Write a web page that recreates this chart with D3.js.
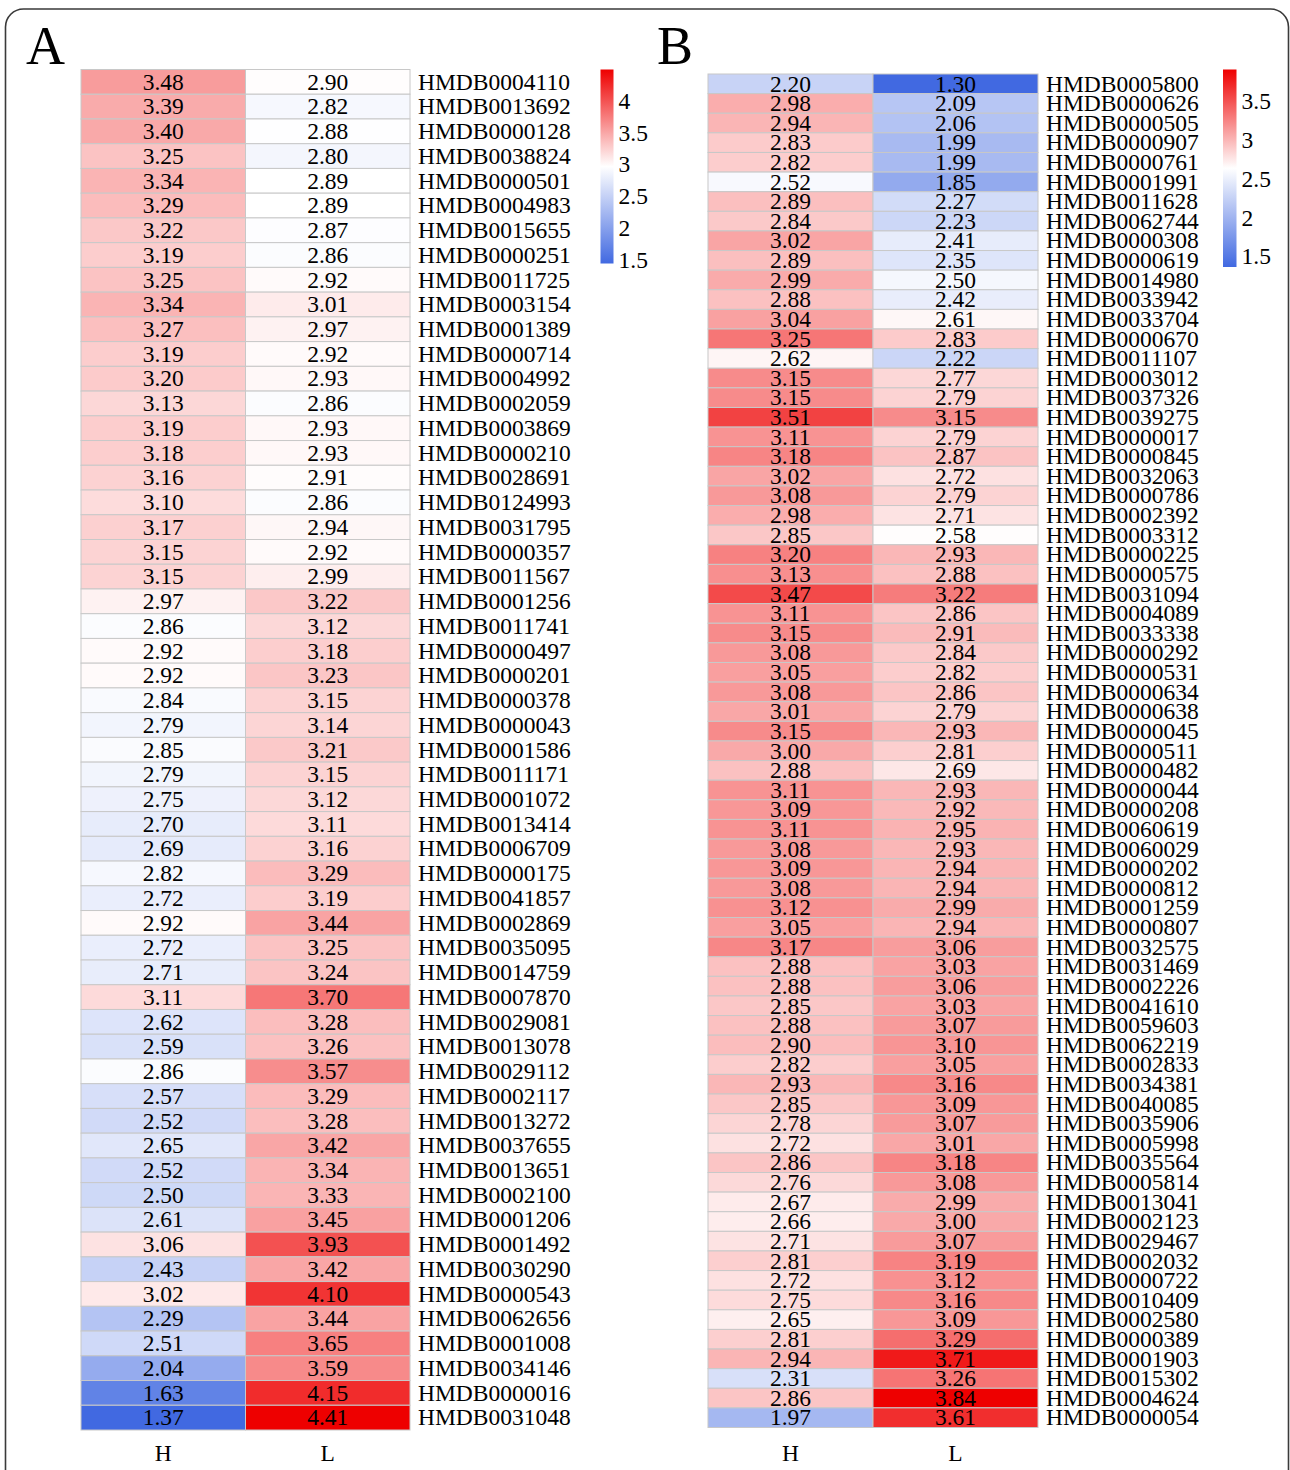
<!DOCTYPE html>
<html>
<head>
<meta charset="utf-8">
<script src="https://cdn.jsdelivr.net/npm/d3@7"></script>
<style>
  html, body { margin: 0; padding: 0; background: #fff; }
  svg { display: block; }
  text { font-family: "Liberation Serif", "Times New Roman", serif; fill: #000; }
</style>
</head>
<body>
<svg id="chart" width="1290" height="1470"></svg>
<script>
// ---------- DATA ----------
const columns = ["H", "L"];

const metabolitesA = ["HMDB0004110","HMDB0013692","HMDB0000128","HMDB0038824","HMDB0000501","HMDB0004983","HMDB0015655","HMDB0000251","HMDB0011725","HMDB0003154","HMDB0001389","HMDB0000714","HMDB0004992","HMDB0002059","HMDB0003869","HMDB0000210","HMDB0028691","HMDB0124993","HMDB0031795","HMDB0000357","HMDB0011567","HMDB0001256","HMDB0011741","HMDB0000497","HMDB0000201","HMDB0000378","HMDB0000043","HMDB0001586","HMDB0011171","HMDB0001072","HMDB0013414","HMDB0006709","HMDB0000175","HMDB0041857","HMDB0002869","HMDB0035095","HMDB0014759","HMDB0007870","HMDB0029081","HMDB0013078","HMDB0029112","HMDB0002117","HMDB0013272","HMDB0037655","HMDB0013651","HMDB0002100","HMDB0001206","HMDB0001492","HMDB0030290","HMDB0000543","HMDB0062656","HMDB0001008","HMDB0034146","HMDB0000016","HMDB0031048"];
const valuesA_H = [3.48,3.39,3.40,3.25,3.34,3.29,3.22,3.19,3.25,3.34,3.27,3.19,3.20,3.13,3.19,3.18,3.16,3.10,3.17,3.15,3.15,2.97,2.86,2.92,2.92,2.84,2.79,2.85,2.79,2.75,2.70,2.69,2.82,2.72,2.92,2.72,2.71,3.11,2.62,2.59,2.86,2.57,2.52,2.65,2.52,2.50,2.61,3.06,2.43,3.02,2.29,2.51,2.04,1.63,1.37];
const valuesA_L = [2.90,2.82,2.88,2.80,2.89,2.89,2.87,2.86,2.92,3.01,2.97,2.92,2.93,2.86,2.93,2.93,2.91,2.86,2.94,2.92,2.99,3.22,3.12,3.18,3.23,3.15,3.14,3.21,3.15,3.12,3.11,3.16,3.29,3.19,3.44,3.25,3.24,3.70,3.28,3.26,3.57,3.29,3.28,3.42,3.34,3.33,3.45,3.93,3.42,4.10,3.44,3.65,3.59,4.15,4.41];
const legendTicksA = [1.5, 2, 2.5, 3, 3.5, 4];

const metabolitesB = ["HMDB0005800","HMDB0000626","HMDB0000505","HMDB0000907","HMDB0000761","HMDB0001991","HMDB0011628","HMDB0062744","HMDB0000308","HMDB0000619","HMDB0014980","HMDB0033942","HMDB0033704","HMDB0000670","HMDB0011107","HMDB0003012","HMDB0037326","HMDB0039275","HMDB0000017","HMDB0000845","HMDB0032063","HMDB0000786","HMDB0002392","HMDB0003312","HMDB0000225","HMDB0000575","HMDB0031094","HMDB0004089","HMDB0033338","HMDB0000292","HMDB0000531","HMDB0000634","HMDB0000638","HMDB0000045","HMDB0000511","HMDB0000482","HMDB0000044","HMDB0000208","HMDB0060619","HMDB0060029","HMDB0000202","HMDB0000812","HMDB0001259","HMDB0000807","HMDB0032575","HMDB0031469","HMDB0002226","HMDB0041610","HMDB0059603","HMDB0062219","HMDB0002833","HMDB0034381","HMDB0040085","HMDB0035906","HMDB0005998","HMDB0035564","HMDB0005814","HMDB0013041","HMDB0002123","HMDB0029467","HMDB0002032","HMDB0000722","HMDB0010409","HMDB0002580","HMDB0000389","HMDB0001903","HMDB0015302","HMDB0004624","HMDB0000054"];
const valuesB_H = [2.20,2.98,2.94,2.83,2.82,2.52,2.89,2.84,3.02,2.89,2.99,2.88,3.04,3.25,2.62,3.15,3.15,3.51,3.11,3.18,3.02,3.08,2.98,2.85,3.20,3.13,3.47,3.11,3.15,3.08,3.05,3.08,3.01,3.15,3.00,2.88,3.11,3.09,3.11,3.08,3.09,3.08,3.12,3.05,3.17,2.88,2.88,2.85,2.88,2.90,2.82,2.93,2.85,2.78,2.72,2.86,2.76,2.67,2.66,2.71,2.81,2.72,2.75,2.65,2.81,2.94,2.31,2.86,1.97];
const valuesB_L = [1.30,2.09,2.06,1.99,1.99,1.85,2.27,2.23,2.41,2.35,2.50,2.42,2.61,2.83,2.22,2.77,2.79,3.15,2.79,2.87,2.72,2.79,2.71,2.58,2.93,2.88,3.22,2.86,2.91,2.84,2.82,2.86,2.79,2.93,2.81,2.69,2.93,2.92,2.95,2.93,2.94,2.94,2.99,2.94,3.06,3.03,3.06,3.03,3.07,3.10,3.05,3.16,3.09,3.07,3.01,3.18,3.08,2.99,3.00,3.07,3.19,3.12,3.16,3.09,3.29,3.71,3.26,3.84,3.61];
const legendTicksB = [1.5, 2, 2.5, 3, 3.5];

// ---------- DRAW ----------
const svg = d3.select("#chart");
const FS = 23.5;

// outer frame
svg.append("rect")
  .attr("x", 5.5).attr("y", 9).attr("width", 1283).attr("height", 1520)
  .attr("rx", 18).attr("ry", 18)
  .attr("fill", "none").attr("stroke", "#3a3a3a").attr("stroke-width", 1.6);

function panel(cfg) {
  const g = svg.append("g");
  const all = cfg.H.concat(cfg.L);
  const vmin = d3.min(all), vmax = d3.max(all);
  const color = d3.scaleLinear()
    .domain([vmin, (vmin + vmax) / 2, vmax])
    .range(["#4169E1", "#ffffff", "#EE0000"])
    .interpolate(d3.interpolateRgb);

  const x = d3.scaleBand().domain(columns).range([cfg.x0, cfg.x1]);
  const y = d3.scaleBand().domain(cfg.names).range([cfg.y0, cfg.y1]);

  const cells = [];
  cfg.names.forEach((n, i) => {
    cells.push({ row: n, col: "H", v: cfg.H[i] });
    cells.push({ row: n, col: "L", v: cfg.L[i] });
  });

  g.selectAll("rect.cell").data(cells).enter().append("rect")
    .attr("class", "cell")
    .attr("x", d => x(d.col)).attr("y", d => y(d.row))
    .attr("width", x.bandwidth()).attr("height", y.bandwidth())
    .attr("fill", d => color(d.v))
    .attr("stroke", "#c8c8c8").attr("stroke-width", 1);

  g.selectAll("text.val").data(cells).enter().append("text")
    .attr("class", "val")
    .attr("x", d => x(d.col) + x.bandwidth() / 2)
    .attr("y", d => y(d.row) + y.bandwidth() / 2 + FS * 0.33)
    .attr("text-anchor", "middle")
    .attr("font-size", FS)
    .text(d => d.v.toFixed(2));

  g.selectAll("text.rowlab").data(cfg.names).enter().append("text")
    .attr("class", "rowlab")
    .attr("x", cfg.x1 + 8)
    .attr("y", d => y(d) + y.bandwidth() / 2 + FS * 0.33)
    .attr("font-size", FS)
    .text(d => d);

  g.selectAll("text.collab").data(columns).enter().append("text")
    .attr("class", "collab")
    .attr("x", d => x(d) + x.bandwidth() / 2)
    .attr("y", 1461)
    .attr("text-anchor", "middle")
    .attr("font-size", FS)
    .text(d => d);

  // panel letter
  g.append("text").attr("x", cfg.letterX).attr("y", 64)
    .attr("font-size", 54).text(cfg.letter);

  // legend
  const gradId = "grad" + cfg.letter;
  const grad = svg.append("defs").append("linearGradient")
    .attr("id", gradId).attr("x1", 0).attr("y1", 1).attr("x2", 0).attr("y2", 0);
  d3.range(0, 1.0001, 0.05).forEach(t => {
    grad.append("stop").attr("offset", t).attr("stop-color", color(vmin + t * (vmax - vmin)));
  });
  g.append("rect")
    .attr("x", cfg.lx).attr("y", cfg.ly0)
    .attr("width", cfg.lw).attr("height", cfg.ly1 - cfg.ly0)
    .attr("fill", `url(#${gradId})`);
  const ly = d3.scaleLinear().domain([vmin, vmax]).range([cfg.ly1, cfg.ly0]);
  g.selectAll("text.leg").data(cfg.ticks).enter().append("text")
    .attr("class", "leg")
    .attr("x", cfg.lx + cfg.lw + 5)
    .attr("y", d => ly(d) + 13)
    .attr("font-size", FS)
    .text(d => d);
}

panel({
  letter: "A", letterX: 26,
  names: metabolitesA, H: valuesA_H, L: valuesA_L, ticks: legendTicksA,
  x0: 81, x1: 410, y0: 69.5, y1: 1430,
  lx: 600.5, lw: 13, ly0: 69.5, ly1: 263.5
});

panel({
  letter: "B", letterX: 657,
  names: metabolitesB, H: valuesB_H, L: valuesB_L, ticks: legendTicksB,
  x0: 708, x1: 1038, y0: 74, y1: 1427.5,
  lx: 1223, lw: 13.5, ly0: 69.5, ly1: 267
});
</script>
</body>
</html>
